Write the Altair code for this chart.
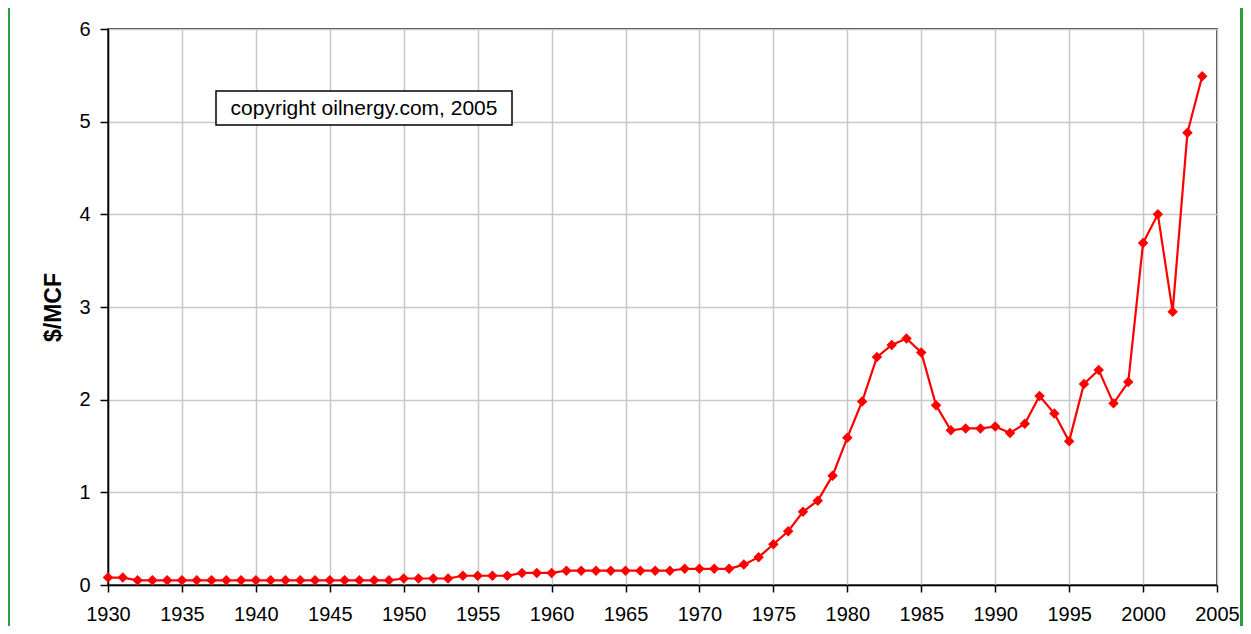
import altair as alt
import pandas as pd

years = list(range(1930, 2005))
prices = [
    0.08, 0.08, 0.05, 0.05, 0.05, 0.05, 0.05, 0.05, 0.05, 0.05,
    0.05, 0.05, 0.05, 0.05, 0.05, 0.05, 0.05, 0.05, 0.05, 0.05,
    0.07, 0.07, 0.07, 0.07, 0.10, 0.10, 0.10, 0.10, 0.13, 0.13,
    0.13, 0.155, 0.155, 0.155, 0.155, 0.155, 0.155, 0.155, 0.155, 0.175,
    0.175, 0.175, 0.175, 0.22, 0.30, 0.44, 0.58, 0.79, 0.91, 1.18,
    1.59, 1.98, 2.46, 2.59, 2.66, 2.51, 1.94, 1.67, 1.69, 1.69,
    1.71, 1.64, 1.74, 2.04, 1.85, 1.55, 2.17, 2.32, 1.96, 2.19,
    3.69, 4.00, 2.95, 4.88, 5.49,
]
x_ticks = list(range(1930, 2006, 5))
y_ticks = [0, 1, 2, 3, 4, 5, 6]
note = "copyright oilnergy.com, 2005"

df = pd.DataFrame({"year": years, "price": prices})

FONT = "Liberation Sans"
RED = "#ff0000"
GREEN = "#2ca03a"
W, H = 1109, 556

x_enc = alt.X(
    "year:Q",
    scale=alt.Scale(domain=[1930, 2005], nice=False, zero=False),
    axis=alt.Axis(
        values=x_ticks, format="d", title=None,
        grid=True, gridColor="#c8c8c8", gridWidth=1.5,
        domainColor="black", domainWidth=1.5,
        tickColor="black", tickSize=7, tickWidth=1.5,
        labelFont=FONT, labelFontSize=20, labelColor="black",
        labelPadding=12, labelFlush=False, labelOverlap=False,
    ),
)
y_enc = alt.Y(
    "price:Q",
    scale=alt.Scale(domain=[0, 6], nice=False),
    axis=alt.Axis(
        values=y_ticks, format="d", title="$/MCF",
        grid=True, gridColor="#c8c8c8", gridWidth=1.5,
        domainColor="black", domainWidth=1.5,
        tickColor="black", tickSize=8, tickWidth=1.5,
        labelFont=FONT, labelFontSize=20, labelColor="black",
        labelPadding=10,
        titleFont=FONT, titleFontSize=23, titleFontWeight="bold",
        titleColor="black", titleX=-43, titleY=H / 2,
    ),
)

base = alt.Chart(df)
line = base.mark_line(color=RED, strokeWidth=2.2).encode(x=x_enc, y=y_enc)
pts = base.mark_point(shape="diamond", filled=True, color=RED, size=110, opacity=1).encode(
    x="year:Q", y="price:Q"
)

one = alt.Data(values=[{"t": note}])
box = alt.Chart(one).mark_rect(fill="white", stroke="black", strokeWidth=1.5).encode(
    x=alt.value(108), x2=alt.value(404), y=alt.value(62), y2=alt.value(96)
)
txt = alt.Chart(one).mark_text(font=FONT, fontSize=21, color="black", align="center", baseline="middle").encode(
    x=alt.value(256), y=alt.value(80), text="t:N"
)
green_l = alt.Chart(alt.Data(values=[{}])).mark_rect(fill=GREEN, clip=False).encode(
    x=alt.value(-100), x2=alt.value(-98), y=alt.value(-30), y2=alt.value(620)
)
green_r = alt.Chart(alt.Data(values=[{}])).mark_rect(fill=GREEN, clip=False).encode(
    x=alt.value(1132), x2=alt.value(1140), y=alt.value(-30), y2=alt.value(620)
)

chart = alt.layer(line, pts, box, txt, green_l, green_r).properties(
    width=W, height=H,
    autosize=alt.AutoSizeParams(type="none"),
    padding={"left": 100, "top": 21, "right": 26, "bottom": 41},
    background="white",
).configure_view(stroke="black", strokeWidth=1.5, fill="white")

chart.save("out.html", embed_options={"renderer": "svg", "actions": False})
